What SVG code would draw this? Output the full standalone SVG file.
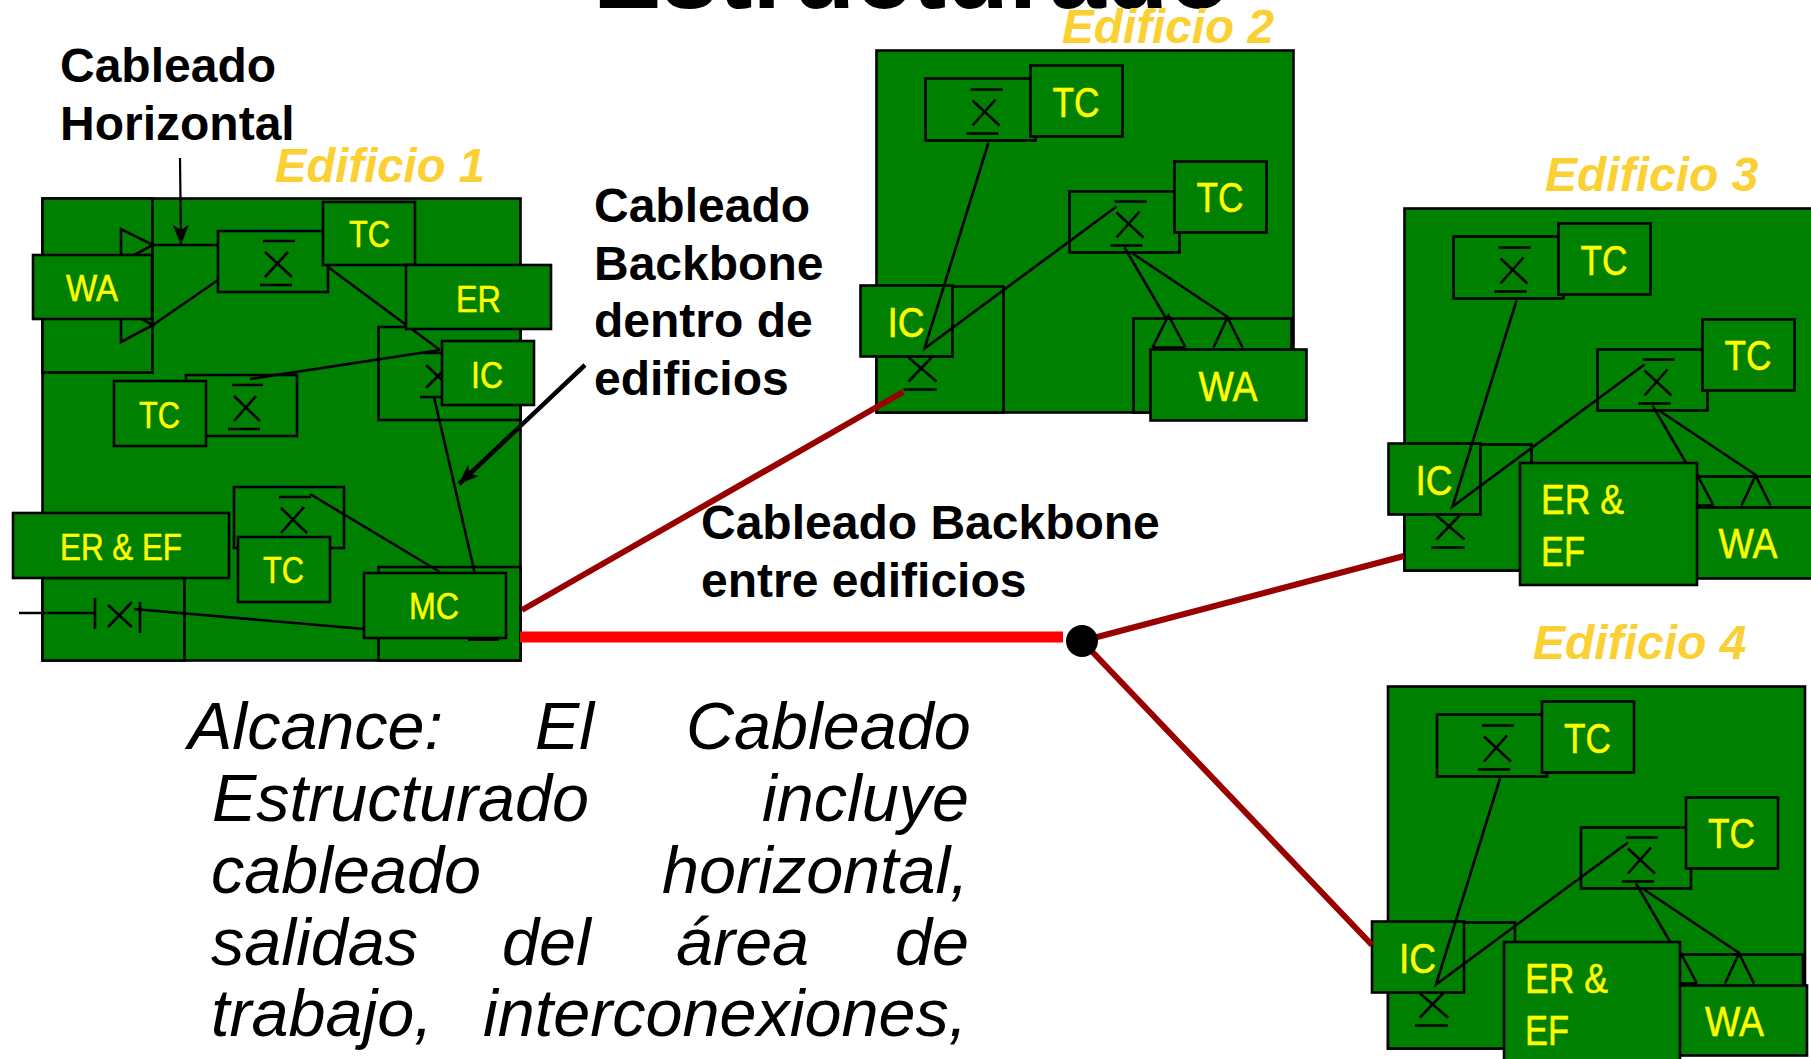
<svg xmlns="http://www.w3.org/2000/svg" width="1811" height="1059" viewBox="0 0 1811 1059">
<style>
.b{fill:#008000;stroke:#000;stroke-width:2.6}
.n{fill:none;stroke:#000;stroke-width:2.6}
.c{fill:none;stroke:#000;stroke-width:2.6}
.y1{font:37px "Liberation Sans",Arial,sans-serif;fill:#ff0;stroke:#ff0;stroke-width:.5}
.y2{font:42px "Liberation Sans",Arial,sans-serif;fill:#ff0;stroke:#ff0;stroke-width:.5}
.lbl{font:bold 48px "Liberation Sans",Arial,sans-serif;fill:#000}
.ed{font:italic bold 48px "Liberation Sans",Arial,sans-serif;fill:#fbd033}
.body{font:italic 66.5px "Liberation Sans",Arial,sans-serif;fill:#000}
.title{font:bold 102.5px "Liberation Sans",Arial,sans-serif;fill:#000}
</style>
<defs>
<marker id="ah" markerUnits="userSpaceOnUse" markerWidth="24" markerHeight="20" refX="20" refY="8" orient="auto"><path d="M0 0L20 8L0 16L5 8Z" fill="#000"/></marker>
<g id="sx"><path class="n" d="M0 0H32M-4 44H28M2 11L29 36M25 10L2 36"/></g>
</defs>
<rect width="1811" height="1059" fill="#fff"/>
<g id="titulo"><text class="title" x="593" y="8">Estructurado</text></g>

<g id="edificio1">
<rect class="b" x="42.5" y="198.5" width="478" height="462"/>
<rect class="b" x="42.5" y="198.5" width="110" height="174"/>
<rect class="b" x="42.5" y="578" width="142" height="82.5"/>
<rect class="b" x="378.5" y="327" width="142" height="93"/>
<rect class="b" x="378.5" y="567" width="142" height="93.5"/>
</g>
<g id="e1-tc1"><rect class="b" x="218" y="231" width="110" height="61"/><path class="n" d="M263 241H295M260 285H292M265 277L288 252M265 252L292 277"/><rect class="b" x="323" y="202" width="92" height="63"/><text class="y1" x="349" y="247" textLength="41" lengthAdjust="spacingAndGlyphs">TC</text></g>
<g id="e1-tc2"><rect class="b" x="186" y="375" width="111" height="61"/><path class="n" d="M232 385H263M228 429H260M234 396L260 421M256 396L234 421"/><rect class="b" x="114" y="381" width="92" height="65"/><text class="y1" x="139" y="428" textLength="41" lengthAdjust="spacingAndGlyphs">TC</text></g>
<g id="e1-tc3"><rect class="b" x="234" y="487" width="110" height="61"/><path class="n" d="M279 497H311M281 508L307 533M304 507L281 533"/><rect class="b" x="238" y="537" width="92" height="65"/><text class="y1" x="263" y="583" textLength="41" lengthAdjust="spacingAndGlyphs">TC</text></g>
<g id="e1-ic"><path class="n" d="M424 353H442M420 397H442M426 365L442 380M426 388L442 372"/><rect class="b" x="442" y="341" width="92" height="64"/><text class="y1" x="471" y="388" textLength="32" lengthAdjust="spacingAndGlyphs">IC</text></g>
<g id="e1-sal"><path class="n" d="M19 613H95M95 598V629M108 605L132 627M132 602L108 627M140 602V633"/></g>

<g id="edificio2" transform="translate(.5 .5)">
<rect class="b" x="876" y="50" width="417" height="362"/>
<rect class="b" x="876" y="286" width="127" height="126"/>
<rect class="b" x="1133" y="318" width="158" height="94"/>
<rect class="b" x="925" y="78" width="110" height="62"/><use href="#sx" x="970" y="89"/>
<rect class="b" x="1069" y="191" width="110" height="61"/><use href="#sx" x="1114" y="201"/>
<rect class="b" x="1030" y="65" width="92" height="71"/><text class="y2" x="1052" y="116" textLength="47" lengthAdjust="spacingAndGlyphs">TC</text>
<rect class="b" x="1174" y="161" width="92" height="71"/><text class="y2" x="1196" y="211" textLength="47" lengthAdjust="spacingAndGlyphs">TC</text>
<path class="n" d="M908 357L936 381M931 357L908 381M903 389H936"/>
<rect class="b" x="860" y="285" width="92" height="71"/><text class="y2" x="887" y="336" textLength="37" lengthAdjust="spacingAndGlyphs">IC</text>
</g>
<g id="edificio3" transform="translate(528.5 158.5)">
<rect class="b" x="876" y="50" width="417" height="362"/>
<rect class="b" x="876" y="286" width="127" height="126"/>
<rect class="b" x="1133" y="318" width="158" height="94"/>
<rect class="b" x="925" y="78" width="110" height="62"/><use href="#sx" x="970" y="89"/>
<rect class="b" x="1069" y="191" width="110" height="61"/><use href="#sx" x="1114" y="201"/>
<rect class="b" x="1030" y="65" width="92" height="71"/><text class="y2" x="1052" y="116" textLength="47" lengthAdjust="spacingAndGlyphs">TC</text>
<rect class="b" x="1174" y="161" width="92" height="71"/><text class="y2" x="1196" y="211" textLength="47" lengthAdjust="spacingAndGlyphs">TC</text>
<path class="n" d="M908 357L936 381M931 357L908 381M903 389H936"/>
<rect class="b" x="860" y="285" width="92" height="71"/><text class="y2" x="887" y="336" textLength="37" lengthAdjust="spacingAndGlyphs">IC</text>
</g>
<g id="edificio4" transform="translate(512 636.5)">
<rect class="b" x="876" y="50" width="417" height="362"/>
<rect class="b" x="876" y="286" width="127" height="126"/>
<rect class="b" x="1133" y="318" width="158" height="94"/>
<rect class="b" x="925" y="78" width="110" height="62"/><use href="#sx" x="970" y="89"/>
<rect class="b" x="1069" y="191" width="110" height="61"/><use href="#sx" x="1114" y="201"/>
<rect class="b" x="1030" y="65" width="92" height="71"/><text class="y2" x="1052" y="116" textLength="47" lengthAdjust="spacingAndGlyphs">TC</text>
<rect class="b" x="1174" y="161" width="92" height="71"/><text class="y2" x="1196" y="211" textLength="47" lengthAdjust="spacingAndGlyphs">TC</text>
<path class="n" d="M908 357L936 381M931 357L908 381M903 389H936"/>
<rect class="b" x="860" y="285" width="92" height="71"/><text class="y2" x="887" y="336" textLength="37" lengthAdjust="spacingAndGlyphs">IC</text>
</g>

<g id="connectors">
<path class="c" d="M218 245H153M218 280L153 325M328 267L440 350M250 379L440 350M434 397L474.5 572M310 494L440 572M134 609L364 629"/>
<path class="c" transform="translate(.5 .5)" d="M988 142L924 348L1116 206M1124 247L1165 317M1132 253L1228 317"/>
<path class="c" transform="translate(528.5 158.5)" d="M988 142L924 348L1116 206M1124 247L1165 317M1132 253L1228 317"/>
<path class="c" transform="translate(512 636.5)" d="M988 142L924 348L1116 206M1124 247L1165 317M1132 253L1228 317"/>
<path fill="none" stroke="#f00" stroke-width="11" d="M520 637H1063"/>
<path fill="none" stroke="#900" stroke-width="6" d="M522 610L903 392M1082 641L1404 556M1082 641L1372 945"/>
<circle cx="1082" cy="641" r="16" fill="#000"/>
<path fill="none" stroke="#000" stroke-width="2.2" marker-end="url(#ah)" d="M180 158L181 245"/>
<path fill="none" stroke="#000" stroke-width="4.5" marker-end="url(#ah)" d="M585 365L459 484"/>
</g>

<g id="e1-wa"><path class="n" d="M121 262V229L153 245L121 262M121 308V342L153 325L121 308"/><rect class="b" x="33" y="255" width="119" height="64"/><text class="y1" x="66" y="301" textLength="52" lengthAdjust="spacingAndGlyphs">WA</text></g>
<g id="e1-er"><rect class="b" x="406" y="265" width="145" height="64"/><text class="y1" x="456" y="312" textLength="45" lengthAdjust="spacingAndGlyphs">ER</text></g>
<g id="e1-eref"><rect class="b" x="13" y="513" width="216" height="65"/><text class="y1" x="60" y="560" textLength="122" lengthAdjust="spacingAndGlyphs">ER &amp; EF</text></g>
<g id="e1-mc"><rect fill="#000" x="468" y="636" width="31" height="5"/><rect class="b" x="364" y="573" width="142" height="65"/><text class="y1" x="409" y="619" textLength="50" lengthAdjust="spacingAndGlyphs">MC</text></g>

<g id="e2-wa" transform="translate(.5 .5)"><path class="n" d="M1152 347L1168 315L1185 347M1213 347L1227 317L1242 347M1152 347H1185" /><rect class="b" x="1150" y="349" width="156" height="71"/><text class="y2" x="1198" y="400" textLength="59" lengthAdjust="spacingAndGlyphs">WA</text></g>
<g id="e3-wa" transform="translate(528.5 158.500)"><path class="n" d="M1152 347L1168 315L1185 347M1213 347L1227 317L1242 347M1152 347H1185"/><rect class="b" x="1150" y="349" width="156" height="71"/><text class="y2" x="1190" y="399" textLength="59" lengthAdjust="spacingAndGlyphs">WA</text></g>
<g id="e3-eref"><rect class="b" x="1520" y="463" width="177" height="122"/><text class="y2" x="1541" y="514" textLength="83" lengthAdjust="spacingAndGlyphs">ER &amp;</text><text class="y2" x="1541" y="566" textLength="44" lengthAdjust="spacingAndGlyphs">EF</text></g>
<g id="e4-wa" transform="translate(512 636.5)"><path class="n" d="M1152 347L1168 315L1185 347M1213 347L1227 317L1242 347M1152 347H1185"/><rect class="b" x="1150" y="349" width="145" height="70"/><text class="y2" x="1193" y="399" textLength="59" lengthAdjust="spacingAndGlyphs">WA</text></g>
<g id="e4-eref"><rect class="b" x="1504" y="942" width="176" height="122"/><text class="y2" x="1525" y="993" textLength="83" lengthAdjust="spacingAndGlyphs">ER &amp;</text><text class="y2" x="1525" y="1045" textLength="44" lengthAdjust="spacingAndGlyphs">EF</text></g>

<g id="etiquetas">
<text class="lbl" x="60" y="82">Cableado</text><text class="lbl" x="60" y="140">Horizontal</text>
<text class="lbl" x="594" y="222">Cableado</text><text class="lbl" x="594" y="280">Backbone</text><text class="lbl" x="594" y="337">dentro de</text><text class="lbl" x="594" y="395">edificios</text>
<text class="lbl" x="701" y="539">Cableado Backbone</text><text class="lbl" x="701" y="597">entre edificios</text>
<text class="ed" x="275" y="182" textLength="210" lengthAdjust="spacingAndGlyphs">Edificio 1</text><text class="ed" x="1062" y="43" textLength="212" lengthAdjust="spacingAndGlyphs">Edificio 2</text><text class="ed" x="1545" y="191">Edificio 3</text><text class="ed" x="1533" y="659">Edificio 4</text>
</g>
<g id="alcance">
<text class="body" x="188" y="749">Alcance:</text><text class="body" x="535" y="749">El</text><text class="body" x="686" y="749">Cableado</text>
<text class="body" x="212" y="821">Estructurado</text><text class="body" x="762" y="821">incluye</text>
<text class="body" x="211" y="893">cableado</text><text class="body" x="662" y="893">horizontal,</text>
<text class="body" x="211" y="965">salidas</text><text class="body" x="502" y="965">del</text><text class="body" x="676" y="965">área</text><text class="body" x="895" y="965">de</text>
<text class="body" x="211" y="1036">trabajo,</text><text class="body" x="483" y="1036">interconexiones,</text>
</g>
</svg>
